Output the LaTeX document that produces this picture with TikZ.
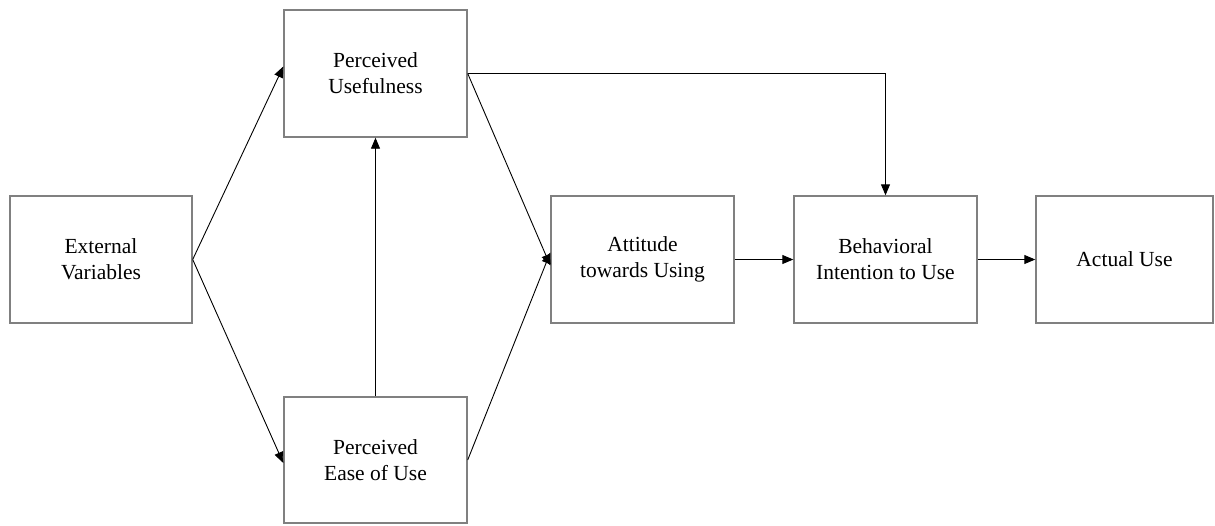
\documentclass[tikz,border=0pt]{standalone}
\usepackage{fontspec}
\setmainfont{Liberation Serif}
\usetikzlibrary{arrows.meta}
\definecolor{boxline}{RGB}{128,128,128}
\begin{document}
\begin{tikzpicture}[x=1pt,y=-1pt,
  model/.style={draw=boxline, line width=1.4pt, fill=white, rectangle,
    minimum height=127pt, align=center, inner sep=0pt,
    font=\fontsize{21.5}{26}\selectfont},
  link/.style={draw=black, line width=0.9pt,
    -{Triangle[length=11pt,width=9pt]}}]
\useasboundingbox (0,0) rectangle (1215,525);

\node[model, minimum width=182pt] (ev)  at (101,259.5)   {External\\Variables};
\node[model, minimum width=183pt] (pu)  at (375.5,73.5)  {Perceived\\Usefulness};
\node[model, minimum width=183pt, minimum height=126pt] (peu) at (375.5,460) {Perceived\\Ease of Use};
\node[model, minimum width=183pt] (att) at (642.5,259.5) {Attitude\\towards Using};
\node[model, minimum width=183pt] (bi)  at (885.5,259.5) {Behavioral\\Intention to Use};
\node[model, minimum width=177pt] (au)  at (1124.5,259.5) {Actual Use};

\draw[link] (ev.east) -- ([yshift=7pt]pu.west);
\draw[link] (ev.east) -- ([yshift=-3pt]peu.west);
\draw[link] (peu.north) -- (pu.south);
\draw[link] (pu.east) -- ([yshift=-6pt]att.west);
\draw[link] (peu.east) -- ([yshift=7pt]att.west);
\draw[link] (pu.east) -| (bi.north);
\draw[link] (att.east) -- (bi.west);
\draw[link] (bi.east) -- (au.west);
\end{tikzpicture}
\end{document}
